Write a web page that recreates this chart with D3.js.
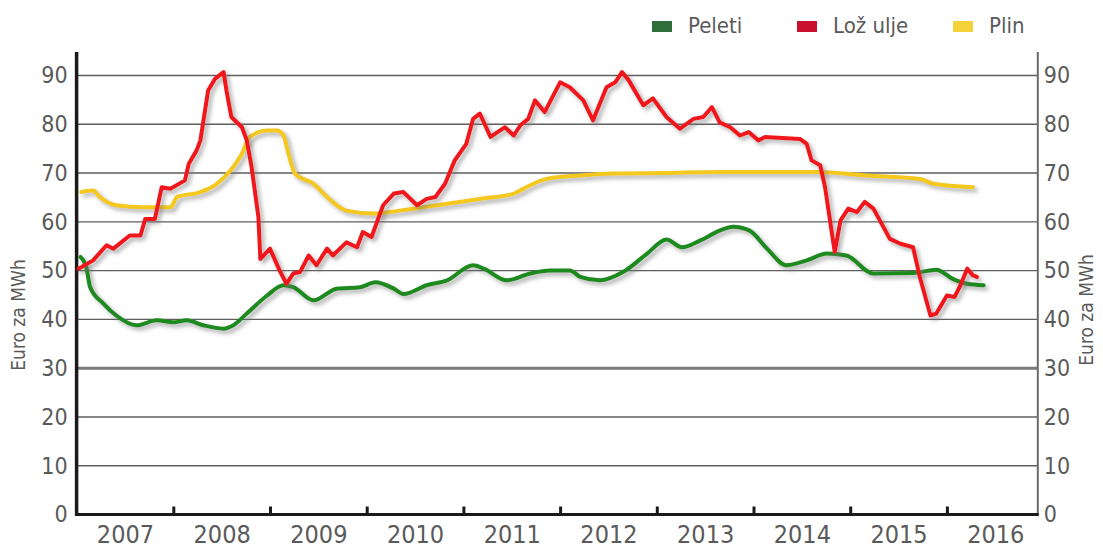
<!DOCTYPE html>
<html>
<head>
<meta charset="utf-8">
<script src="https://cdn.jsdelivr.net/npm/d3@7"></script>
<style>
  body { margin: 0; background: #fff; }
  text { font-family: "DejaVu Sans Condensed", "DejaVu Sans", sans-serif; fill: #5a5a5a; }
</style>
</head>
<body>
<div id="chart"></div>
<script>
// year labels and y ticks
var years = [2007, 2008, 2009, 2010, 2011, 2012, 2013, 2014, 2015, 2016];
var yTicks = [0, 10, 20, 30, 40, 50, 60, 70, 80, 90];

// Peleti (decimal year, euro/MWh)
var peletiT = [2007.04, 2007.10, 2007.14, 2007.28, 2007.41, 2007.62, 2007.83, 2008.00, 2008.14, 2008.31,
               2008.52, 2008.62, 2008.76, 2008.97, 2009.14, 2009.24, 2009.45, 2009.69, 2009.93, 2010.09,
               2010.28, 2010.38, 2010.62, 2010.83, 2011.10, 2011.21, 2011.45, 2011.69, 2011.90, 2012.10,
               2012.21, 2012.41, 2012.65, 2012.90, 2013.10, 2013.26, 2013.45, 2013.65, 2013.79, 2013.96,
               2014.14, 2014.34, 2014.55, 2014.76, 2014.96, 2015.24, 2015.65, 2015.89, 2016.06, 2016.21,
               2016.38];
var peletiV = [52.8, 50.7, 46.6, 43.2, 40.8, 38.8, 39.8, 39.4, 39.8, 38.8,
               38.1, 38.8, 41.2, 44.9, 47.0, 46.6, 43.9, 46.3, 46.6, 47.6,
               46.3, 45.2, 47.0, 48.0, 51.1, 50.4, 48.0, 49.4, 50.0, 50.0,
               48.7, 48.0, 49.7, 53.5, 56.4, 54.8, 56.2, 58.2, 59.0, 58.2,
               54.5, 51.1, 52.1, 53.5, 53.1, 49.4, 49.5, 50.2, 48.3, 47.3,
               47.0];

// Lož ulje
var uljeT = [2007.02, 2007.17, 2007.31, 2007.38, 2007.55, 2007.66, 2007.71, 2007.81, 2007.88, 2007.97,
             2008.12, 2008.16, 2008.24, 2008.28, 2008.36, 2008.43, 2008.52, 2008.55, 2008.60, 2008.71,
             2008.76, 2008.81, 2008.88, 2008.90, 2009.00, 2009.10, 2009.17, 2009.24, 2009.31, 2009.40,
             2009.48, 2009.59, 2009.65, 2009.79, 2009.90, 2009.96, 2010.05, 2010.17, 2010.28, 2010.38,
             2010.52, 2010.62, 2010.71, 2010.81, 2010.91, 2011.03, 2011.10, 2011.17, 2011.28, 2011.43,
             2011.52, 2011.59, 2011.67, 2011.74, 2011.84, 2012.00, 2012.10, 2012.24, 2012.34, 2012.48,
             2012.57, 2012.64, 2012.71, 2012.86, 2012.96, 2013.10, 2013.24, 2013.38, 2013.48, 2013.57,
             2013.65, 2013.76, 2013.86, 2013.95, 2014.05, 2014.12, 2014.48, 2014.55, 2014.60, 2014.69,
             2014.74, 2014.84, 2014.90, 2014.98, 2015.07, 2015.15, 2015.24, 2015.41, 2015.52, 2015.65,
             2015.72, 2015.83, 2015.89, 2016.00, 2016.08, 2016.14, 2016.21, 2016.27, 2016.31];
var uljeV = [50.4, 52.1, 55.2, 54.5, 57.2, 57.2, 60.6, 60.6, 67.1, 66.8,
             68.5, 71.9, 74.6, 76.7, 86.9, 89.3, 90.7, 86.9, 81.5, 79.4,
             76.7, 71.2, 61.0, 52.4, 54.5, 50.0, 47.3, 49.4, 49.7, 53.1,
             51.1, 54.5, 53.1, 55.8, 54.8, 57.9, 56.9, 63.4, 65.8, 66.1,
             63.4, 64.7, 65.1, 67.8, 72.6, 76.0, 81.1, 82.2, 77.4, 79.4,
             77.7, 79.8, 81.1, 84.9, 82.5, 88.6, 87.6, 84.9, 80.8, 87.6,
             88.6, 90.7, 89.0, 83.9, 85.3, 81.5, 79.1, 81.1, 81.5, 83.5,
             80.4, 79.4, 77.7, 78.4, 76.7, 77.4, 77.0, 76.0, 72.6, 71.6,
             67.1, 53.8, 60.3, 62.7, 62.0, 64.1, 62.7, 56.5, 55.5, 54.8,
             48.7, 40.8, 41.2, 44.9, 44.6, 47.0, 50.4, 49.0, 48.7];

// Plin
var plinT = [2007.05, 2007.17, 2007.24, 2007.41, 2007.69, 2007.97, 2008.04, 2008.28, 2008.45, 2008.59,
             2008.71, 2008.79, 2008.97, 2009.07, 2009.14, 2009.19, 2009.26, 2009.45, 2009.59, 2009.79,
             2010.07, 2010.34, 2010.83, 2011.17, 2011.52, 2011.69, 2011.86, 2012.21, 2012.55, 2013.07,
             2013.65, 2014.65, 2015.17, 2015.72, 2015.86, 2016.27];
var plinV = [66.1, 66.4, 65.1, 63.4, 63.0, 63.0, 65.1, 66.1, 67.8, 70.5,
             74.0, 77.4, 78.7, 78.7, 77.7, 74.0, 69.9, 67.8, 65.1, 62.3,
             61.7, 62.3, 63.7, 64.7, 65.8, 67.5, 68.8, 69.5, 69.9, 70.0,
             70.2, 70.2, 69.5, 68.8, 67.8, 67.1];

var seriesNames = ["Peleti", "Lož ulje", "Plin"];
var lineColors = ["#1c8a1f", "#f0181a", "#f4c81e"];
var legendColors = ["#2f6e3b", "#c8102e", "#f6d23a"];

var width = 1103, height = 553;
var x = d3.scaleLinear().domain([2007, 2017]).range([76.6, 1043.6]);
var y = d3.scaleLinear().domain([0, 90]).range([514.5, 75.5]);
var xRight = x(2016.94);

var svg = d3.select("#chart").append("svg")
    .attr("width", width)
    .attr("height", height);

// shadow under the lines
var filter = svg.append("defs").append("filter")
    .attr("id", "shadow")
    .attr("x", "-5%").attr("y", "-5%")
    .attr("width", "115%").attr("height", "120%");
filter.append("feDropShadow")
    .attr("dx", 3).attr("dy", 3)
    .attr("stdDeviation", 2.2)
    .attr("flood-color", "#777")
    .attr("flood-opacity", 0.6);

// gridlines
svg.append("g")
    .selectAll("line")
    .data(yTicks.slice(1))
    .enter().append("line")
    .attr("x1", x(2007))
    .attr("x2", xRight)
    .attr("y1", function(d) { return y(d); })
    .attr("y2", function(d) { return y(d); })
    .attr("stroke", function(d) { return d === 30 ? "#7a7a7a" : "#5e5e5e"; })
    .attr("stroke-width", function(d) { return d === 30 ? 3 : 1.4; });

// left axis
var leftAxis = svg.append("g")
    .attr("transform", "translate(" + x(2007) + ",0)")
    .call(d3.axisLeft(y).tickValues(yTicks).tickSize(0).tickPadding(9));
leftAxis.select(".domain").remove();
leftAxis.selectAll("text").style("font-size", "23px").attr("fill", "#5a5a5a");

// right axis
var rightAxis = svg.append("g")
    .attr("transform", "translate(" + xRight + ",0)")
    .call(d3.axisRight(y).tickValues(yTicks).tickSize(0).tickPadding(6));
rightAxis.select(".domain").remove();
rightAxis.selectAll("text").style("font-size", "23px").attr("fill", "#5a5a5a");

svg.append("line")
    .attr("x1", xRight).attr("x2", xRight)
    .attr("y1", 52).attr("y2", y(0))
    .attr("stroke", "#6a6a6a").attr("stroke-width", 2);

svg.append("line")
    .attr("x1", x(2007)).attr("x2", x(2007))
    .attr("y1", 52).attr("y2", y(0) + 1.5)
    .attr("stroke", "#1a1a1a").attr("stroke-width", 3.5);

// bottom axis: ticks at year boundaries, labels at year middles
var tickAxis = svg.append("g")
    .attr("transform", "translate(0," + y(0) + ")")
    .call(d3.axisBottom(x).tickValues(years.slice(1)).tickSizeInner(-8).tickSizeOuter(0).tickFormat(""));
tickAxis.select(".domain").remove();
tickAxis.selectAll("line").attr("stroke", "#1a1a1a").attr("stroke-width", 3);

svg.append("line")
    .attr("x1", x(2007) - 1.5).attr("x2", xRight + 1)
    .attr("y1", y(0)).attr("y2", y(0))
    .attr("stroke", "#1a1a1a").attr("stroke-width", 3);

var labelAxis = svg.append("g")
    .attr("transform", "translate(0," + y(0) + ")")
    .call(d3.axisBottom(x)
        .tickValues(years.map(function(d) { return d + 0.5; }))
        .tickSize(0).tickPadding(11)
        .tickFormat(function(d) { return Math.floor(d); }));
labelAxis.select(".domain").remove();
labelAxis.selectAll("text").style("font-size", "25px").attr("fill", "#5a5a5a");

// axis titles
svg.append("text")
    .attr("transform", "translate(25," + 315 + ") rotate(-90)")
    .attr("text-anchor", "middle")
    .style("font-size", "19px")
    .text("Euro za MWh");
svg.append("text")
    .attr("transform", "translate(1093," + 310 + ") rotate(-90)")
    .attr("text-anchor", "middle")
    .style("font-size", "19px")
    .text("Euro za MWh");

// lines
function makeData(ts, vs) {
    return ts.map(function(t, i) { return { t: t, v: vs[i] }; });
}
var series = [
    { data: makeData(peletiT, peletiV), color: lineColors[0], curve: d3.curveMonotoneX },
    { data: makeData(plinT, plinV), color: lineColors[2], curve: d3.curveMonotoneX },
    { data: makeData(uljeT, uljeV), color: lineColors[1], curve: d3.curveLinear }
];

series.forEach(function(s) {
    var line = d3.line()
        .x(function(d) { return x(d.t); })
        .y(function(d) { return y(d.v); })
        .curve(s.curve);
    svg.append("path")
        .datum(s.data)
        .attr("d", line)
        .attr("fill", "none")
        .attr("stroke", s.color)
        .attr("stroke-width", 4)
        .attr("stroke-linejoin", "round")
        .attr("stroke-linecap", "round")
        .attr("filter", "url(#shadow)");
});

// legend
var legendX = [652, 797, 953];
var legend = svg.append("g");
seriesNames.forEach(function(name, i) {
    legend.append("rect")
        .attr("x", legendX[i]).attr("y", 21)
        .attr("width", 20).attr("height", 11)
        .attr("fill", legendColors[i]);
    legend.append("text")
        .attr("x", legendX[i] + 36).attr("y", 33)
        .style("font-size", "22px")
        .text(name);
});
</script>
</body>
</html>
